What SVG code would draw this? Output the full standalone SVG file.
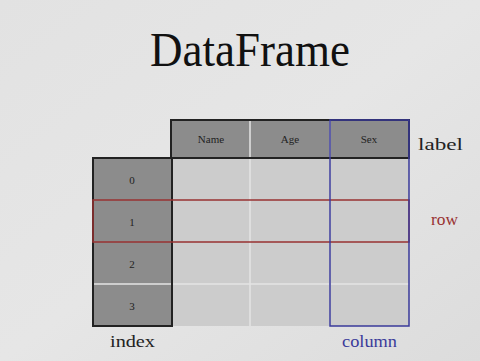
<svg xmlns="http://www.w3.org/2000/svg" width="480" height="361" viewBox="0 0 480 361">
  <defs>
    <linearGradient id="bg" x1="0" y1="0" x2="1" y2="1">
      <stop offset="0" stop-color="#e2e2e2"/>
      <stop offset="0.5" stop-color="#e6e6e6"/>
      <stop offset="1" stop-color="#dcdcdc"/>
    </linearGradient>
  </defs>
  <style>
    .hdr { fill: #8c8c8c; }
    .cell { fill: #cccccc; }
    .grid { stroke: #e4e4e4; stroke-width: 1.5; fill: none; }
    .frame { stroke: #222222; stroke-width: 2; fill: none; }
    .small { font-family: "Liberation Serif", serif; font-size: 11px; fill: #222222; text-anchor: middle; }
    .lbl { font-family: "Liberation Serif", serif; font-size: 17px; }
  </style>
  <rect width="480" height="361" fill="url(#bg)"/>

  <text x="150" y="66" font-family="Liberation Serif, serif" font-size="48" fill="#111111" textLength="200" lengthAdjust="spacingAndGlyphs">DataFrame</text>

  <!-- body cells -->
  <g id="body">
    <rect class="cell" x="172" y="158" width="237" height="168"/>
    <path class="grid" d="M250 158V326M330 158V326M172 284H409"/>
  </g>

  <!-- column header -->
  <g id="header">
    <rect class="hdr" x="171" y="120" width="238" height="38"/>
    <path class="grid" d="M250 120V158M330 120V158"/>
    <rect class="frame" x="171" y="120" width="238" height="38"/>
    <text class="small" x="211" y="143">Name</text>
    <text class="small" x="290" y="143">Age</text>
    <text class="small" x="369" y="143">Sex</text>
  </g>

  <!-- row index -->
  <g id="index">
    <rect class="hdr" x="93" y="158" width="79" height="168"/>
    <path class="grid" d="M93 284H172"/>
    <rect class="frame" x="93" y="158" width="79" height="168"/>
    <text class="small" x="132" y="184">0</text>
    <text class="small" x="132" y="226">1</text>
    <text class="small" x="132" y="268">2</text>
    <text class="small" x="132" y="310">3</text>
  </g>

  <!-- highlighted row and column -->
  <g id="connectors">
    <rect x="93" y="200" width="316" height="42" fill="none" stroke="#983232" stroke-width="1.5"/>
    <rect x="330" y="120" width="79" height="206" fill="none" stroke="#3a3a9a" stroke-width="1.5"/>
  </g>

  <g id="labels">
    <text class="lbl" x="418" y="150" fill="#222222" textLength="45" lengthAdjust="spacingAndGlyphs">label</text>
    <text class="lbl" x="431" y="225" fill="#983232" textLength="27" lengthAdjust="spacingAndGlyphs">row</text>
    <text class="lbl" x="110" y="347" fill="#222222" textLength="45" lengthAdjust="spacingAndGlyphs">index</text>
    <text class="lbl" x="342" y="347" fill="#3a3a9a" textLength="55" lengthAdjust="spacingAndGlyphs">column</text>
  </g>
</svg>
